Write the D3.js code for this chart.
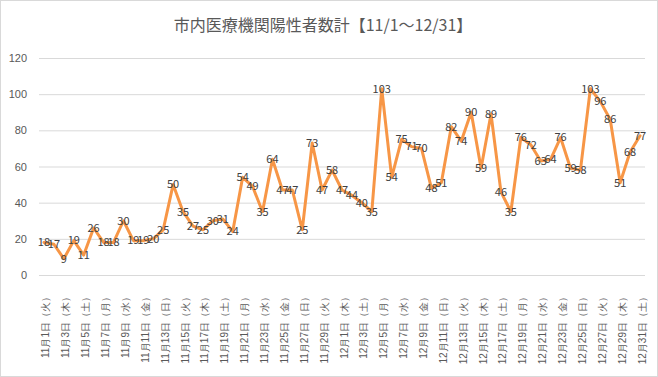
<!DOCTYPE html>
<html>
<head>
<meta charset="utf-8">
<script src="https://cdn.jsdelivr.net/npm/d3@7"></script>
<style>
  body { margin: 0; background: #fff; }
  svg { display: block; font-family: "Noto Sans CJK JP", "Noto Sans", sans-serif; }
</style>
</head>
<body>
<div id="chart"></div>
<script>
// daily positive counts, 11/1 - 12/31
var novValues = [18, 17, 9, 19, 11, 26, 18, 18, 30, 19, 19, 20, 25, 50, 35, 27, 25, 30, 31, 24,
                 54, 49, 35, 64, 47, 47, 25, 73, 47, 58];
var decValues = [47, 44, 40, 35, 103, 54, 75, 71, 70, 48, 51, 82, 74, 90, 59, 89, 46, 35, 76, 72,
                 63, 64, 76, 59, 58, 103, 96, 86, 51, 68, 77];
var weekdays = ["日", "月", "火", "水", "木", "金", "土"];
var yTicks = [0, 20, 40, 60, 80, 100, 120];
var title = "市内医療機関陽性者数計【11/1～12/31】";

var values = novValues.concat(decValues);
var categories = [];
for (var i = 0; i < values.length; i++) {
    var dt = new Date(2022, 10, 1 + i);
    categories.push((dt.getMonth() + 1) + "月" + dt.getDate() + "日（" + weekdays[dt.getDay()] + "）");
}
var data = categories.map(function (c, i) { return { cat: c, value: values[i] }; });

var W = 658, H = 377;
var margin = { top: 58, left: 39, right: 13, bottom: 102 };
var width = W - margin.left - margin.right,
    height = H - margin.top - margin.bottom;

var svg = d3.select("#chart").append("svg")
    .attr("width", W)
    .attr("height", H);

svg.append("rect")
    .attr("x", 0.5).attr("y", 0.5)
    .attr("width", W - 1).attr("height", H - 1)
    .attr("fill", "#fff")
    .attr("stroke", "#d9d9d9");

svg.append("text")
    .attr("x", 323)
    .attr("y", 25)
    .attr("dy", "0.35em")
    .attr("text-anchor", "middle")
    .attr("font-size", 16)
    .attr("fill", "#595959")
    .text(title);

var canvas = svg.append("g")
    .attr("transform", "translate(" + margin.left + "," + margin.top + ")");

var xScale = d3.scaleBand()
    .domain(categories)
    .range([0, width]);

var yScale = d3.scaleLinear()
    .domain([0, 120])
    .range([height, 0]);

// gridlines + y labels
var yAxis = d3.axisLeft(yScale)
    .tickValues(yTicks)
    .tickSize(-width)
    .tickPadding(12);

var yg = canvas.append("g").call(yAxis);
yg.select(".domain").remove();
yg.selectAll(".tick line").attr("stroke", "#d9d9d9");
yg.selectAll(".tick text")
    .attr("fill", "#595959")
    .attr("font-size", 11);

// x labels, every other day
var xAxis = d3.axisBottom(xScale)
    .tickValues(categories.filter(function (d, i) { return i % 2 === 0; }))
    .tickSize(0);

var xg = canvas.append("g")
    .attr("transform", "translate(0," + height + ")")
    .call(xAxis);
xg.select(".domain").remove();
xg.selectAll(".tick text")
    .attr("fill", "#595959")
    .attr("font-size", 10)
    .attr("text-anchor", "end")
    .attr("transform", "translate(2,17) rotate(-90)")
    .attr("x", 0)
    .attr("y", 0)
    .attr("dy", "0.35em");

var xc = function (d) { return xScale(d.cat) + xScale.bandwidth() / 2; };

var line = d3.line()
    .x(xc)
    .y(function (d) { return yScale(d.value); });

canvas.append("path")
    .datum(data)
    .attr("fill", "none")
    .attr("stroke", "#f79646")
    .attr("stroke-width", 3)
    .attr("stroke-linejoin", "round")
    .attr("stroke-linecap", "round")
    .attr("d", line);

canvas.append("g")
    .selectAll("text")
    .data(data)
    .enter().append("text")
    .attr("x", xc)
    .attr("y", function (d) { return yScale(d.value); })
    .attr("dy", "0.35em")
    .attr("text-anchor", "middle")
    .attr("font-size", 11)
    .attr("fill", "#404040")
    .text(function (d) { return d.value; });
</script>
</body>
</html>
